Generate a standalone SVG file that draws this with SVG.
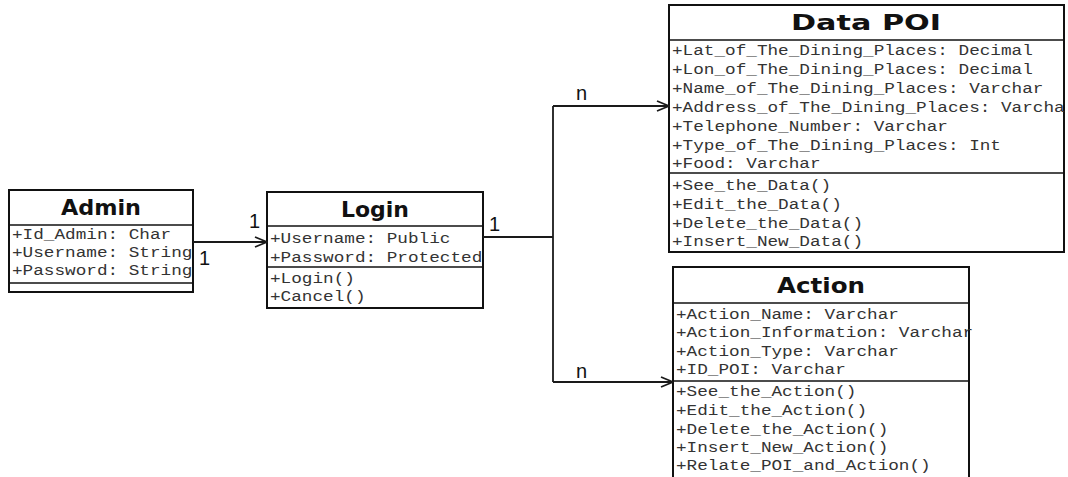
<svg xmlns="http://www.w3.org/2000/svg" width="1068" height="477" viewBox="0 0 1068 477">
  <style>
    .box { fill: #ffffff; stroke: #111111; stroke-width: 2; }
    .div { stroke: #111111; stroke-width: 1.6; fill: none; }
    .title { font-family: "DejaVu Sans", Verdana, sans-serif; font-weight: bold; font-size: 21px; fill: #111111; text-anchor: middle; }
    .row { font-family: "Liberation Mono", "Courier New", monospace; font-size: 15px; fill: #333333; }
    .conn { stroke: #1a1a1a; stroke-width: 1.8; fill: none; }
    .mult { font-family: "Liberation Sans", Arial, sans-serif; font-size: 20px; fill: #111111; }
  </style>
  <defs>
    <marker id="open-arrow" viewBox="0 0 14 12" refX="13" refY="6" markerWidth="14" markerHeight="12" markerUnits="userSpaceOnUse" orient="auto">
      <path d="M1,1 L13,6 L1,11" fill="none" stroke="#1a1a1a" stroke-width="1.8"/>
    </marker>
  </defs>

  <!-- Admin class -->
  <g id="admin">
    <rect class="box" x="9" y="190" width="184" height="102"/>
    <line class="div" x1="9" y1="225" x2="193" y2="225"/>
    <line class="div" x1="9" y1="283" x2="193" y2="283"/>
    <text class="title" x="101" y="215" textLength="80" lengthAdjust="spacingAndGlyphs">Admin</text>
    <g transform="translate(12,0) scale(1.18,1)">
      <text class="row" x="0" y="239">+Id_Admin: Char</text>
      <text class="row" x="0" y="257">+Username: String</text>
      <text class="row" x="0" y="275">+Password: String</text>
    </g>
  </g>

  <!-- Login class -->
  <g id="login">
    <rect class="box" x="267" y="192" width="216" height="116"/>
    <line class="div" x1="267" y1="226" x2="483" y2="226"/>
    <line class="div" x1="267" y1="267" x2="483" y2="267"/>
    <text class="title" x="375" y="217" textLength="68" lengthAdjust="spacingAndGlyphs">Login</text>
    <g transform="translate(270,0) scale(1.18,1)">
      <text class="row" x="0" y="243">+Username: Public</text>
      <text class="row" x="0" y="262">+Password: Protected</text>
      <text class="row" x="0" y="283">+Login()</text>
      <text class="row" x="0" y="301">+Cancel()</text>
    </g>
  </g>

  <!-- Data POI class -->
  <g id="data-poi">
    <rect class="box" x="669" y="5" width="395" height="247"/>
    <line class="div" x1="669" y1="40" x2="1064" y2="40"/>
    <line class="div" x1="669" y1="173" x2="1064" y2="173"/>
    <text class="title" x="866" y="30" textLength="150" lengthAdjust="spacingAndGlyphs">Data POI</text>
    <g transform="translate(672,0) scale(1.18,1)">
      <text class="row" x="0" y="55">+Lat_of_The_Dining_Places: Decimal</text>
      <text class="row" x="0" y="74">+Lon_of_The_Dining_Places: Decimal</text>
      <text class="row" x="0" y="93">+Name_of_The_Dining_Places: Varchar</text>
      <text class="row" x="0" y="112">+Address_of_The_Dining_Places: Varcha</text>
      <text class="row" x="0" y="131">+Telephone_Number: Varchar</text>
      <text class="row" x="0" y="150">+Type_of_The_Dining_Places: Int</text>
      <text class="row" x="0" y="168">+Food: Varchar</text>
      <text class="row" x="0" y="190">+See_the_Data()</text>
      <text class="row" x="0" y="209">+Edit_the_Data()</text>
      <text class="row" x="0" y="228">+Delete_the_Data()</text>
      <text class="row" x="0" y="246">+Insert_New_Data()</text>
    </g>
  </g>

  <!-- Action class -->
  <g id="action">
    <rect class="box" x="673" y="267" width="296" height="220"/>
    <line class="div" x1="673" y1="303" x2="969" y2="303"/>
    <line class="div" x1="673" y1="381" x2="969" y2="381"/>
    <text class="title" x="821" y="293" textLength="88" lengthAdjust="spacingAndGlyphs">Action</text>
    <g transform="translate(676,0) scale(1.18,1)">
      <text class="row" x="0" y="319">+Action_Name: Varchar</text>
      <text class="row" x="0" y="337">+Action_Information: Varchar</text>
      <text class="row" x="0" y="356">+Action_Type: Varchar</text>
      <text class="row" x="0" y="374">+ID_POI: Varchar</text>
      <text class="row" x="0" y="396">+See_the_Action()</text>
      <text class="row" x="0" y="415">+Edit_the_Action()</text>
      <text class="row" x="0" y="434">+Delete_the_Action()</text>
      <text class="row" x="0" y="452">+Insert_New_Action()</text>
      <text class="row" x="0" y="470">+Relate_POI_and_Action()</text>
    </g>
  </g>

  <!-- Associations -->
  <g id="connectors">
    <line class="conn" x1="193" y1="242" x2="267" y2="242" marker-end="url(#open-arrow)"/>
    <polyline class="conn" points="483,237 553,237"/>
    <line class="conn" x1="553" y1="106" x2="553" y2="382"/>
    <line class="conn" x1="553" y1="106" x2="669" y2="106" marker-end="url(#open-arrow)"/>
    <line class="conn" x1="553" y1="382" x2="673" y2="382" marker-end="url(#open-arrow)"/>
    <text class="mult" x="249" y="228">1</text>
    <text class="mult" x="199" y="265">1</text>
    <text class="mult" x="489" y="231">1</text>
    <text class="mult" x="576" y="100">n</text>
    <text class="mult" x="576" y="378">n</text>
  </g>
</svg>
